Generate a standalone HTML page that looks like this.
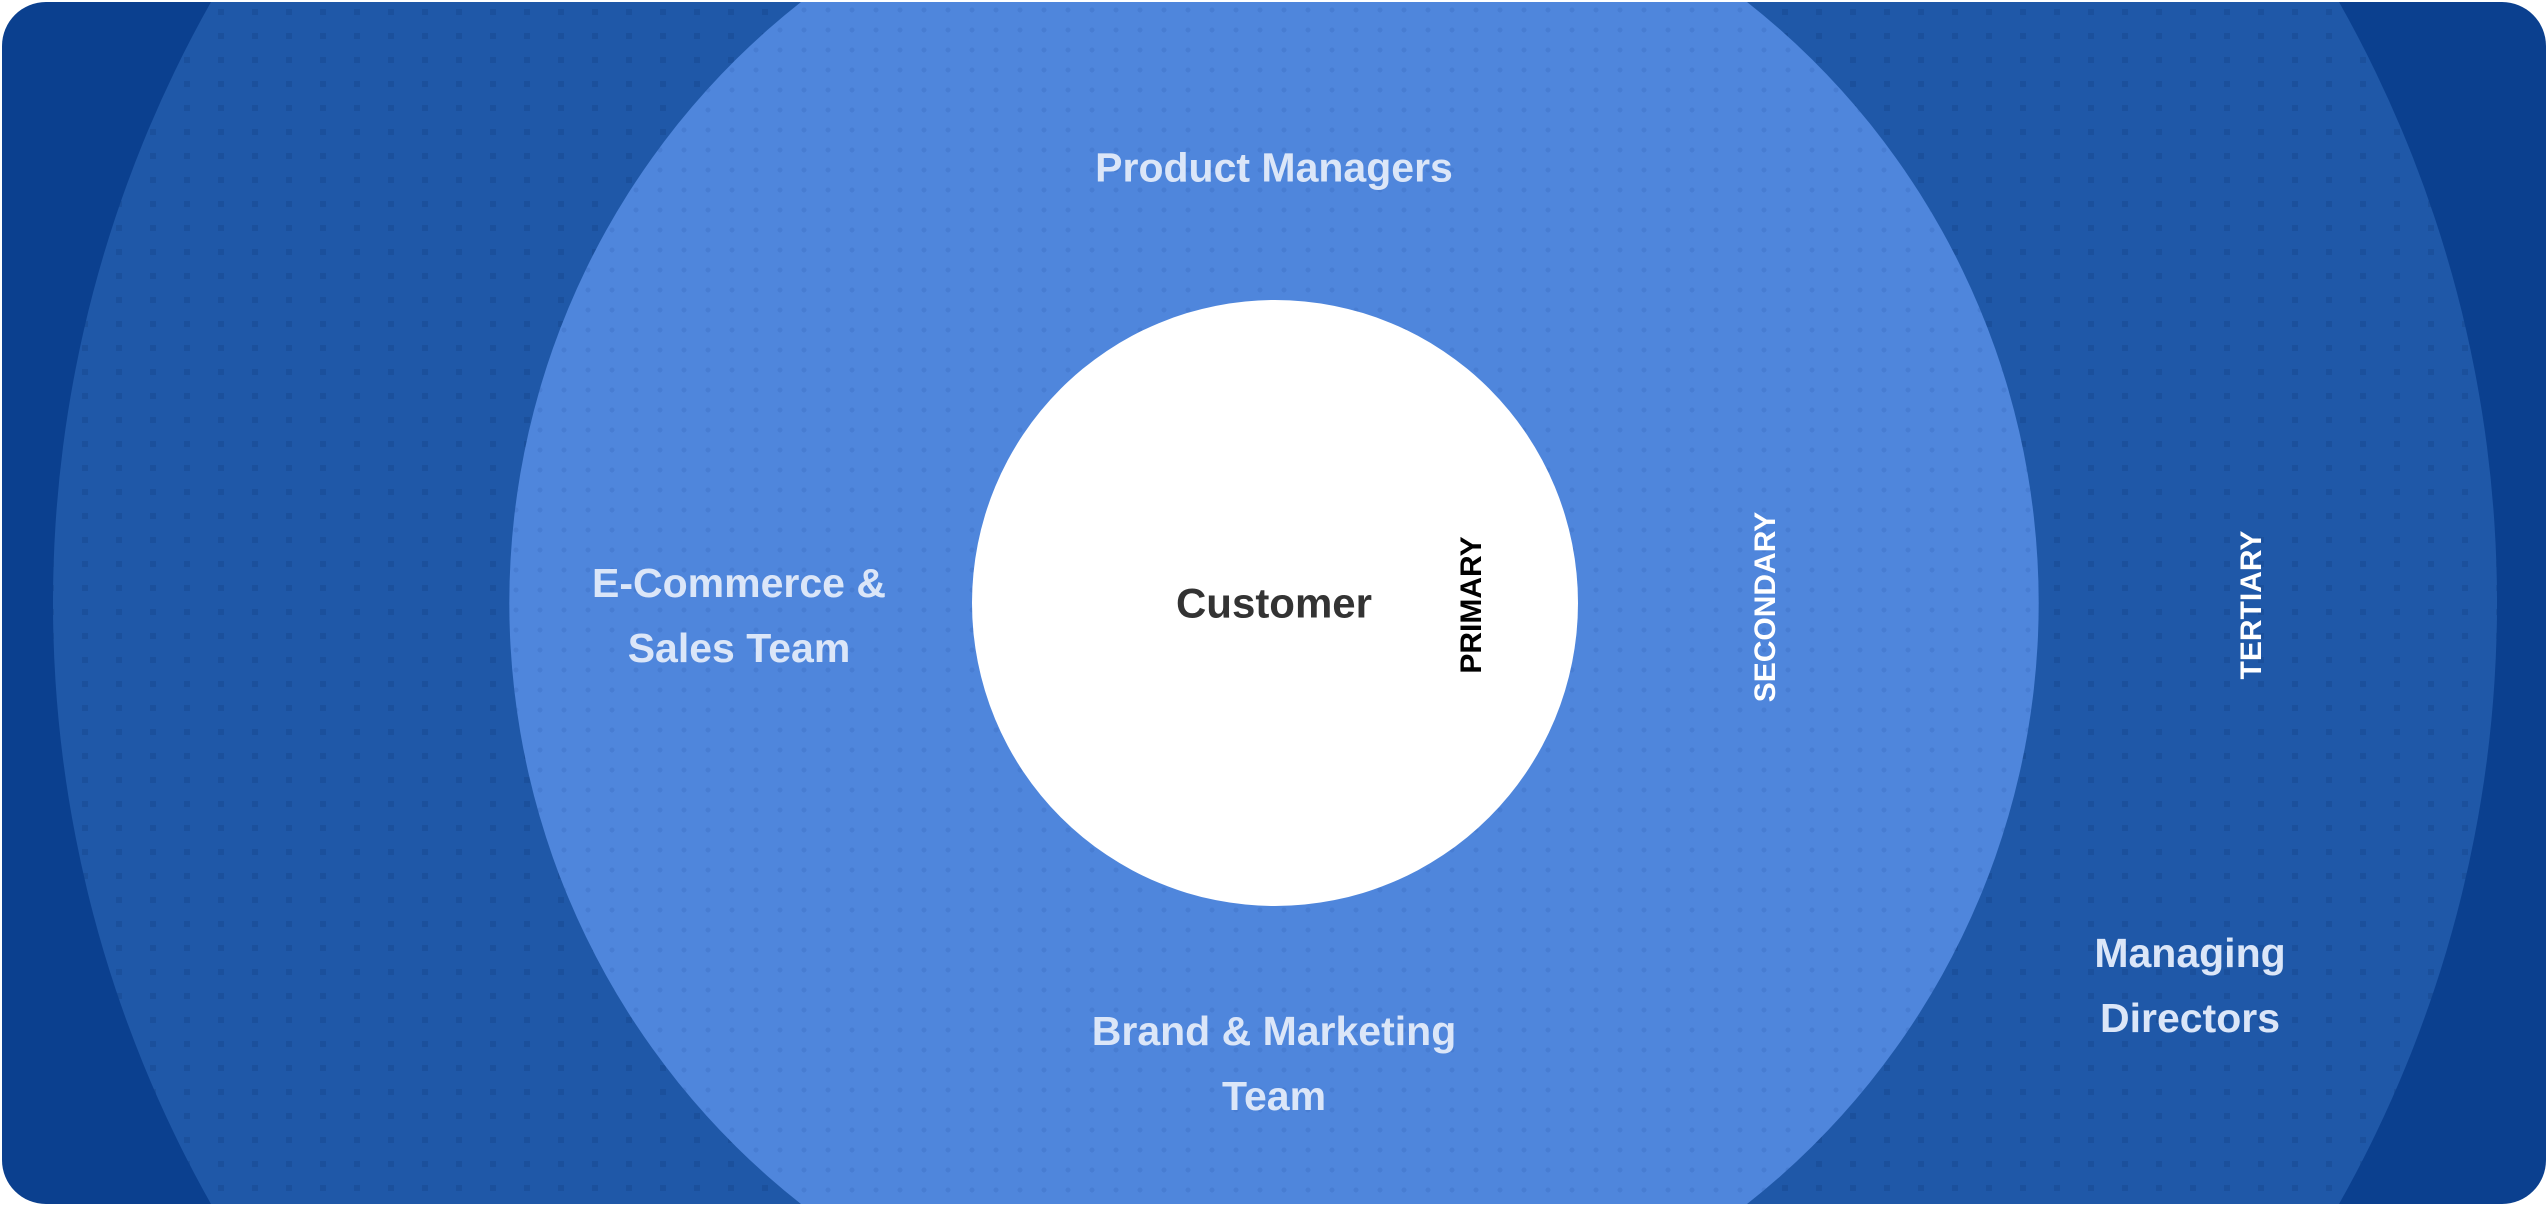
<!DOCTYPE html>
<html><head><meta charset="utf-8"><style>
html,body{margin:0;padding:0;background:#fff;width:2548px;height:1208px;overflow:hidden;}
body{position:relative;font-family:"Liberation Sans",Arial,sans-serif;}
svg{position:absolute;left:0;top:0;display:block;}
.t{position:absolute;color:#dbe6f8;font-weight:bold;font-size:41px;text-align:center;line-height:65px;white-space:nowrap;transform:translate(-50%,-50%);}
.v{position:absolute;font-weight:bold;font-size:30px;white-space:nowrap;transform:translate(-50%,-50%) rotate(-90deg);}
</style></head><body>
<svg width="2548" height="1208" viewBox="0 0 2548 1208">
<defs>
<clipPath id="card"><rect x="2" y="2" width="2544" height="1202" rx="44"/></clipPath>
<pattern id="p1" width="34" height="24" patternUnits="userSpaceOnUse"><rect width="34" height="24" fill="#1f58a8"/><rect x="14" y="9" width="6" height="6" fill="#1a4e98" opacity="0.8"/></pattern>
<pattern id="p2" width="24" height="20" patternUnits="userSpaceOnUse"><rect width="24" height="20" fill="#4f86dc"/><circle cx="12" cy="10" r="2.5" fill="#467bd0" opacity="0.8"/></pattern>
</defs>
<g clip-path="url(#card)">
<rect x="2" y="2" width="2544" height="1202" fill="#0b408f"/>
<path d="M211,2 L2339,2 A1222,1222 0 0 1 2339,1204 L211,1204 A1222,1222 0 0 1 211,2 Z" fill="url(#p1)"/>
<path d="M801,2 L1747,2 A765,765 0 0 1 1747,1204 L801,1204 A765,765 0 0 1 801,2 Z" fill="url(#p2)"/>
<circle cx="1275" cy="603" r="303" fill="#fff"/>
</g>
</svg>
<div class="t" style="left:1274px;top:168px;">Product Managers</div>
<div class="t" style="left:739px;top:616px;">E-Commerce &amp;<br>Sales Team</div>
<div class="t" style="left:1274px;top:1064px;">Brand &amp; Marketing<br>Team</div>
<div class="t" style="left:2190px;top:986px;">Managing<br>Directors</div>
<div class="t" style="left:1274px;top:603px;color:#333;font-size:42px;">Customer</div>
<div class="v" style="left:1472px;top:605px;color:#000;">PRIMARY</div>
<div class="v" style="left:1766px;top:607px;color:#fff;">SECONDARY</div>
<div class="v" style="left:2252px;top:605px;color:#fff;">TERTIARY</div>
</body></html>
